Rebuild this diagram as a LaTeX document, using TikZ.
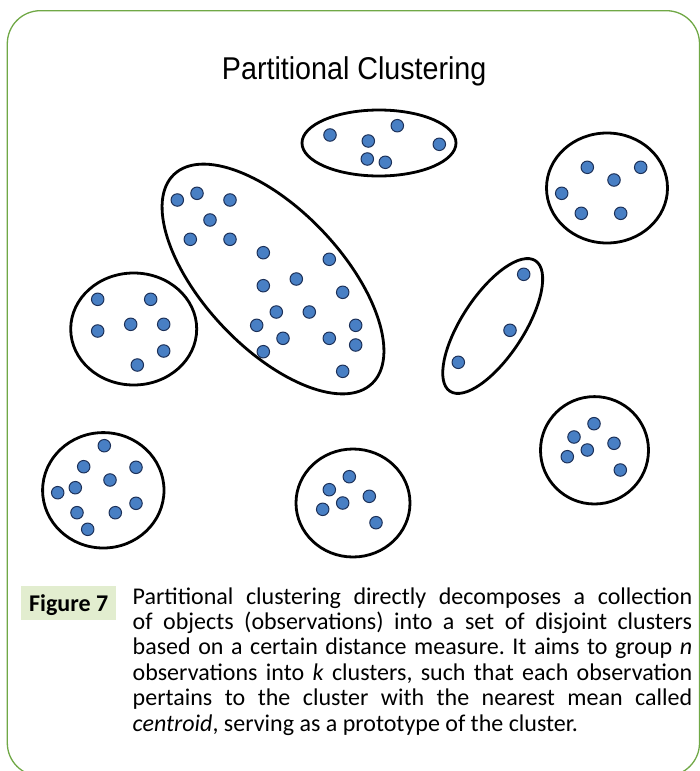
\documentclass[tikz,border=0pt]{standalone}
\usepackage{fontspec}
\setmainfont{Carlito}
\newfontfamily\titlefont[FakeStretch=0.91]{Liberation Sans}
\definecolor{framegreen}{RGB}{112,168,70}
\definecolor{dotfill}{RGB}{72,127,196}
\definecolor{dotedge}{RGB}{28,48,88}
\definecolor{figbg}{RGB}{226,237,207}
\frenchspacing
\begin{document}
\begin{tikzpicture}[x=1pt,y=-1pt,
  dot/.style={circle, fill=dotfill, draw=dotedge, line width=1pt, minimum size=12.5pt, inner sep=0pt},
  clus/.style={draw=black, line width=2.8pt},
  captline/.style={anchor=base west, inner sep=0pt, font=\fontsize{24}{25}\selectfont}]
\useasboundingbox (0,0) rectangle (700,771);
% frame
\draw[framegreen, line width=1.3pt, rounded corners=33pt] (7.3,10.7) rectangle (699.5,776);
% title
\node (title) [anchor=base, inner sep=0pt, font=\titlefont\fontsize{31.5}{34}\selectfont] at (354.2,79.3) {Partitional Clustering};
% cluster outlines
\draw[clus] (379,143) ellipse [x radius=77, y radius=33];
\draw[clus, rotate around={-46.6:(273,279)}] (273,279) ellipse [x radius=144, y radius=69];
\draw[clus, rotate around={56.8:(492.7,326)}] (492.7,326) ellipse [x radius=78, y radius=31];
\draw[clus] (133.7,329) ellipse [x radius=63, y radius=56];
\draw[clus] (103.3,490.3) ellipse [x radius=60.7, y radius=57.7];
\draw[clus] (607,188) ellipse [x radius=60.5, y radius=55];
\draw[clus] (594.5,450.3) ellipse [x radius=54, y radius=53.7];
\draw[clus] (353,503) ellipse [x radius=57, y radius=54];
% dots
\foreach \x/\y [count=\i] in {330/135, 368.3/141, 397.3/125.7, 439.3/144.3, 367.3/159, 385.3/162.3}
  \node[dot] (ta\i) at (\x,\y) {};
\foreach \x/\y [count=\i] in {177.3/200, 197/193.3, 230/200, 210/220, 190.3/239.3, 230/239.3, 263.3/252.7, 329.3/259.3, 263.3/285.7, 296.3/279, 342.7/292.3, 276.3/312, 309.3/312, 256.7/325.3, 355.7/325.3, 283/338.3, 329.3/338.3, 355.7/345, 263.3/351.7, 342.7/371.3}
  \node[dot] (bg\i) at (\x,\y) {};
\foreach \x/\y [count=\i] in {587.3/167.3, 640.7/167.3, 614/180, 561.7/193.3, 581.3/213.3, 620.7/213.3}
  \node[dot] (tr\i) at (\x,\y) {};
\foreach \x/\y [count=\i] in {97.7/299.3, 150.7/299.3, 97.7/331, 130.7/324.3, 163.7/324.3, 163.7/351, 137.3/365}
  \node[dot] (lf\i) at (\x,\y) {};
\foreach \x/\y [count=\i] in {523.7/274.3, 510/330.3, 458.3/362.3}
  \node[dot] (sm\i) at (\x,\y) {};
\foreach \x/\y [count=\i] in {104.3/445.7, 83.7/466.7, 136/467.3, 110/480, 75.3/487.7, 57.7/492.7, 77/512.7, 115.3/512.7, 136/503.3, 87.7/529.3}
  \node[dot] (bl\i) at (\x,\y) {};
\foreach \x/\y [count=\i] in {349.3/476.7, 329.3/489.7, 369.3/496.3, 342.7/503, 322.7/509.3, 376/522.7}
  \node[dot] (bm\i) at (\x,\y) {};
\foreach \x/\y [count=\i] in {594/423.7, 574/437, 614/443.3, 587.3/450, 567.3/456.7, 620.3/470}
  \node[dot] (br\i) at (\x,\y) {};
% caption
\node (fig) [anchor=north west, fill=figbg, minimum width=95pt, inner sep=0pt, text height=25pt, text depth=9pt, font=\bfseries\fontsize{24}{25}\selectfont] at (21,586) {Figure 7};
\node[captline] (c1) at (132.5,604) {\makebox[559.5pt][s]{Partitional clustering directly decomposes a collection}};
\node[captline] (c2) at (132.5,629.4) {\makebox[559.5pt][s]{of objects (observations) into a set of disjoint clusters}};
\node[captline] (c3) at (132.5,654.8) {\makebox[559.5pt][s]{based on a certain distance measure. It aims to group \textit{n}}};
\node[captline] (c4) at (132.5,680.2) {\makebox[559.5pt][s]{observations into \textit{k} clusters, such that each observation}};
\node[captline] (c5) at (132.5,705.6) {\makebox[559.5pt][s]{pertains to the cluster with the nearest mean called}};
\node[captline] (c6) at (132.5,731) {\textit{centroid}, serving as a prototype of the cluster.};
\end{tikzpicture}
\end{document}
